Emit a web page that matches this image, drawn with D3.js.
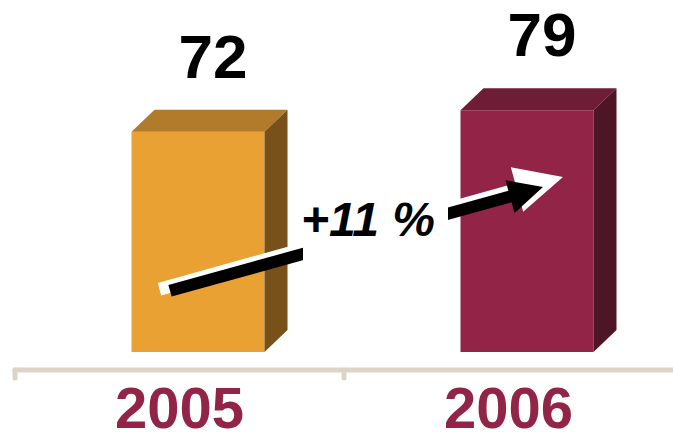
<!DOCTYPE html>
<html>
<head>
<meta charset="utf-8">
<script src="https://cdn.jsdelivr.net/npm/d3@7"></script>
<style>
  html, body { margin: 0; padding: 0; background: #fff; }
  svg { display: block; font-family: "Liberation Sans", Arial, sans-serif; }
</style>
</head>
<body>
<div id="chart"></div>
<script>
// data
var years = ["2005", "2006"];
var values = [72, 79];
var growthLabel = "+11 %";

var colors = {
  "2005": { front: "#E9A134", top: "#B27A2B", side: "#77501A" },
  "2006": { front: "#922447", top: "#6F1D36", side: "#4D1526" }
};

var W = 673, H = 432;
var depthX = 23, depthY = 22;

var svg = d3.select("#chart").append("svg").attr("width", W).attr("height", H);

var x = d3.scaleBand().domain(years).range([15, 673]);
var y = d3.scaleLinear().domain([0, 80]).range([352, 352 - 80 * 3.06]);

var barW = 133;
function barLeft(d){ return x(d) + x.bandwidth() / 2 - 48; }

// bars (3d boxes)
var bars = svg.append("g").selectAll("g").data(years).enter().append("g");

bars.append("rect")
  .attr("x", function(d){ return barLeft(d); })
  .attr("y", function(d, i){ return y(values[i]); })
  .attr("width", barW)
  .attr("height", function(d, i){ return y(0) - y(values[i]); })
  .attr("fill", function(d){ return colors[d].front; });

bars.append("path")
  .attr("fill", function(d){ return colors[d].top; })
  .attr("d", function(d, i){
    var x0 = barLeft(d), y0 = y(values[i]);
    return "M" + x0 + "," + y0 + "L" + (x0 + depthX) + "," + (y0 - depthY) +
      "L" + (x0 + barW + depthX) + "," + (y0 - depthY) + "L" + (x0 + barW) + "," + y0 + "Z";
  });

bars.append("path")
  .attr("fill", function(d){ return colors[d].side; })
  .attr("d", function(d, i){
    var x1 = barLeft(d) + barW, y0 = y(values[i]), yb = y(0);
    return "M" + x1 + "," + y0 + "L" + (x1 + depthX) + "," + (y0 - depthY) +
      "L" + (x1 + depthX) + "," + (yb - depthY) + "L" + x1 + "," + yb + "Z";
  });

// value labels
bars.append("text")
  .attr("x", function(d){ return barLeft(d) + barW / 2 + 15; })
  .attr("y", function(d, i){ return y(values[i]) - 54; })
  .attr("text-anchor", "middle")
  .attr("font-size", 62)
  .attr("font-weight", "bold")
  .attr("fill", "#000")
  .text(function(d, i){ return values[i]; });

// axis
var axisY = 370;
var axis = svg.append("g")
  .attr("fill", "none")
  .attr("stroke", "#DCD4C7")
  .attr("stroke-width", 5)
  .attr("stroke-linejoin", "round")
  .attr("stroke-linecap", "round");
axis.append("path").attr("d", "M" + x.range()[0] + "," + axisY + "H" + x.range()[1]);
axis.selectAll(".tick").data(years).enter().append("path")
  .attr("d", function(d){ return "M" + x(d) + "," + axisY + "V" + (axisY + 8); });

svg.append("g").selectAll("text").data(years).enter().append("text")
  .attr("x", function(d){ return x(d) + x.bandwidth() / 2; })
  .attr("y", 428)
  .attr("text-anchor", "middle")
  .attr("font-size", 58)
  .attr("font-weight", "bold")
  .attr("fill", "#922447")
  .text(function(d){ return d; });

// growth arrow
function arrowPath(p0, p1, tip, w, hw){
  var dx = p1[0] - p0[0], dy = p1[1] - p0[1], len = Math.sqrt(dx * dx + dy * dy);
  var nx = -dy / len, ny = dx / len;
  var h = w / 2;
  var pts = [
    [p0[0] + nx * h, p0[1] + ny * h],
    [p1[0] + nx * h, p1[1] + ny * h],
    [p1[0] + nx * hw, p1[1] + ny * hw],
    tip,
    [p1[0] - nx * hw, p1[1] - ny * hw],
    [p1[0] - nx * h, p1[1] - ny * h],
    [p0[0] - nx * h, p0[1] - ny * h]
  ];
  return "M" + pts.join("L") + "Z";
}

var c0 = x("2005") + x.bandwidth() / 2, c1 = x("2006") + x.bandwidth() / 2;
var arrows = svg.append("g");
arrows.append("path")
  .attr("fill", "#fff")
  .attr("d", arrowPath([c0 - 20, y(20.5)], [c1 + 8.5, y(53.1)], [c1 + 54.5, y(57.2)], 13, 23));
arrows.append("path")
  .attr("fill", "#000")
  .attr("d", arrowPath([c0 - 9.5, y(20)], [c1 + 1.5, y(50.8)], [c1 + 34.5, y(53.9)], 12, 17));

svg.append("rect")
  .attr("x", 303).attr("y", 195)
  .attr("width", 145).attr("height", 78)
  .attr("fill", "#fff");

svg.append("text")
  .attr("x", 368)
  .attr("y", 236)
  .attr("text-anchor", "middle")
  .attr("font-size", 48)
  .attr("font-weight", "bold")
  .attr("font-style", "italic")
  .attr("fill", "#000")
  .text(growthLabel);
</script>
</body>
</html>
